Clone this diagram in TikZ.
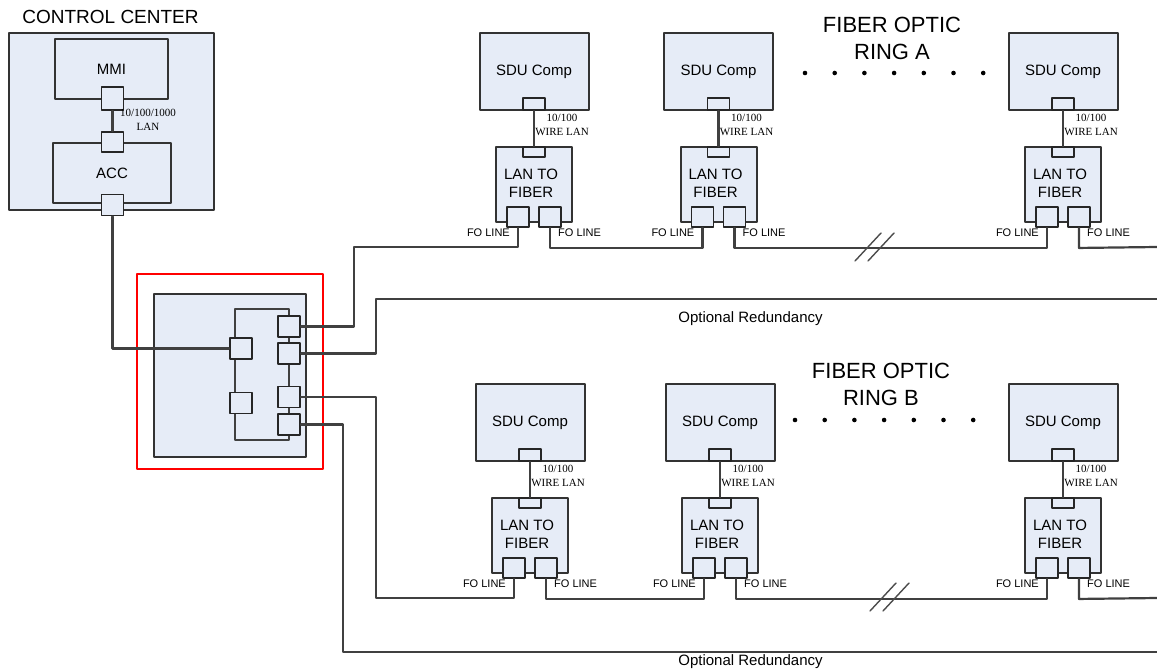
\documentclass[tikz,border=0pt]{standalone}
\usepackage{fontspec}
\setmainfont{Liberation Sans}
\newfontfamily\lanfont{Liberation Serif}
\usetikzlibrary{positioning}
\definecolor{boxblue}{RGB}{230,236,247}
\definecolor{wiregray}{RGB}{64,64,64}
\tikzset{
	unit/.style={draw=black!80, fill=boxblue, line width=2pt, inner sep=0pt},
	jack/.style={draw=black!85, fill=boxblue, line width=1.9pt, inner sep=0pt, minimum width=22pt, minimum height=21pt},
	cable/.style={draw=wiregray, line width=2.2pt},
	lanlbl/.style={font=\lanfont\fontsize{11}{14}\selectfont, align=center, inner sep=0pt},
	folbl/.style={font=\fontsize{11}{13}\selectfont, inner sep=0pt},
	ttl/.style={font=\fontsize{22}{27}\selectfont, align=center, inner sep=0pt},
	slash/.style={line width=1.4pt, black!70},
}
\begin{document}
\begin{tikzpicture}[x=1pt, y=-1pt, line cap=round, line join=round, font=\fontsize{15}{18}\selectfont]
	\useasboundingbox (0,0) rectangle (1157,672);
	% control center
	\node[font=\fontsize{19}{22}\selectfont, inner sep=0pt] (cctitle) at (110.5,16.5) {CONTROL CENTER};
	\node[unit, minimum width=205pt, minimum height=177pt] (cc) at (111.5,121.5) {};
	\node[unit, minimum width=113pt, minimum height=60pt] (mmi) at (111.5,69) {MMI};
	\node[unit, minimum width=118pt, minimum height=60pt] (acc) at (112,173) {ACC};
	\node[jack, minimum height=23pt] (mmip) at (112.5,98.5) {};
	\node[jack, minimum height=20pt] (accup) at (112.5,142) {};
	\node[jack] (accdn) at (112.5,205) {};
	\draw[cable] (mmip.south) -- (accup.north);
	\node[lanlbl] (ccwire) at (148,120) {10/100/1000\\LAN};
	% switch
	\node[draw=red, line width=1.5pt, minimum width=186pt, minimum height=195pt] (hilite) at (230,371.5) {};
	\node[unit, minimum width=152pt, minimum height=163pt] (sw) at (230,375.5) {};
	\draw[cable] (235,309) rectangle (289,440);
	\foreach \n/\x/\y in {l1/241/348.5, l2/241/403, r1/289/326.5, r2/289/353.5, r3/289/397, r4/289/424.5} {
		\node[jack] (\n) at (\x,\y) {};
	}
	\draw[cable] (accdn.south) |- (l1.west);
	% rings
	\foreach \n/\cx/\top in {A1/534/33, A2/718.5/33, A3/1063/33, B1/530/384, B2/720/384, B3/1063/384} {
		\begin{scope}[shift={(\cx,\top)}]
			\node[unit, minimum width=109pt, minimum height=77pt] (sdu\n) at (0,38.5) {SDU Comp};
			\node[jack, minimum height=12pt] (sp\n) at (0,71) {};
			\node[unit, minimum width=76pt, minimum height=75pt] (ltf\n) at (0,151.5) {};
			\node[align=center, inner sep=0pt, font=\fontsize{15}{17.5}\selectfont] (ltl\n) at (-3,150.5) {LAN TO\\FIBER};
			\node[jack, minimum height=10pt] (tp\n) at (0,119) {};
			\node[jack, minimum height=20pt] (fl\n) at (-16,184) {};
			\node[jack, minimum height=20pt] (fr\n) at (16,184) {};
			\draw[cable] (sp\n.south) -- (tp\n.north);
			\node[lanlbl] (wl\n) at (28,92) {10/100\\WIRE LAN};
			\node[folbl, anchor=east] (fol\n) at (-24,200) {FO LINE};
			\node[folbl, anchor=west] (for\n) at (24,200) {FO LINE};
		\end{scope}
	}
	\coordinate (ja) at (354,247);
	\coordinate (ea) at (1157,247);
	\coordinate (jr) at (376,299);
	\coordinate (er) at (1157,299);
	\coordinate (jb) at (376,598);
	\coordinate (eb) at (1157,598);
	\coordinate (jo) at (343,652);
	\coordinate (eo) at (1157,652);
	\draw[cable] (r1.east) -| (ja) -| (flA1.south);
	\draw[cable] (r2.east) -| (jr) -- (er);
	\draw[cable] (r3.east) -| (jb) -| (flB1.south);
	\draw[cable] (r4.east) -| (jo) -- (eo);
	\foreach \a/\b in {A1/A2, A2/A3, B1/B2, B2/B3} {
		\draw[cable] (fr\a.south) -- ++(0,20) -| (fl\b.south);
	}
	\draw[cable] (frA3.south) -- ++(0,20) -- (ea);
	\draw[cable] (frB3.south) -- ++(0,20) -- (eb);
	\foreach \x/\y in {868/247, 881/247, 883/597, 896/597} {
		\draw[slash] ({\x-13},{\y+14}) -- ({\x+13},{\y-14});
	}
	\foreach \i in {0,...,6} {
		\fill ({805+29.7*\i},73) circle (2.3pt);
		\fill ({795+29.7*\i},420) circle (2.3pt);
	}
	\node[ttl] (ringa) at (892,38.5) {FIBER OPTIC\\RING A};
	\node[ttl] (ringb) at (881,384.5) {FIBER OPTIC\\RING B};
	\node[anchor=base] (opt1) at (750.5,322) {Optional Redundancy};
	\node[anchor=base] (opt2) at (750.5,665) {Optional Redundancy};
\end{tikzpicture}
\end{document}
